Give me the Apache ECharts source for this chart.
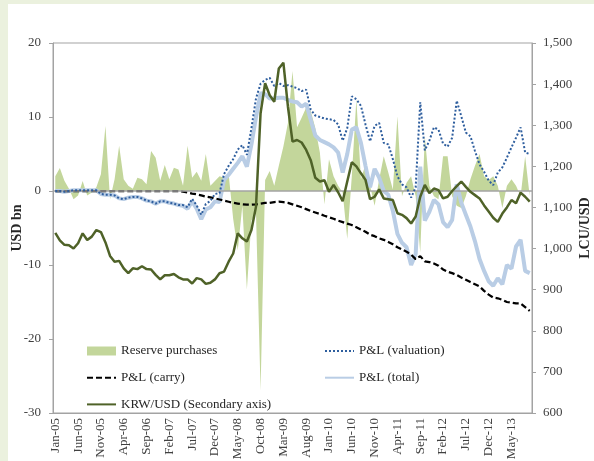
<!DOCTYPE html>
<html>
<head>
<meta charset="utf-8">
<script src="https://cdn.jsdelivr.net/npm/echarts@6/dist/echarts.min.js"></script>
<style>
  html, body { margin: 0; padding: 0; background: #ebf1de; }
  #panel { position: absolute; left: 8px; top: 4px; right: 0; bottom: 0; background: #ffffff; }
  #chart { position: absolute; left: 0; top: 0; width: 594px; height: 461px; }
</style>
</head>
<body>
<div id="panel"></div>
<div id="chart"></div>
<script>
// Monthly categories, Jan-05 .. Sep-13
const monthNames = ['Jan','Feb','Mar','Apr','May','Jun','Jul','Aug','Sep','Oct','Nov','Dec'];
const categories = [];
for (let k = 0; k < 105; k++) {
  const y = 5 + Math.floor(k / 12);
  categories.push(monthNames[k % 12] + '-' + (y < 10 ? '0' + y : '' + y));
}

// Reserve purchases, USD bn
const reservePurchases = [
  2.0, 3.1, 1.4, 0.3, -1.1, -0.6, 1.35, -0.6, -0.2, 0.5,
  2.25, 8.8, -1.1, 1.6, 6.1, 1.6, 0.7, 0.3, 1.8, 1.6,
  0.9, 5.4, 4.5, 1.4, 3.5, 1.6, 3.15, 2.9, 0.7, 6.1,
  1.8, 2.6, 1.4, 5.0, 0.7, 1.35, 2.0, 1.8, 2.3, -3.8,
  -8.0, -2.0, -13.3, -4.0, -3.0, -27.0, 1.5, 2.7, 0.7, 3.4,
  6.0, 9.2, 16.2, 8.6, 9.9, 11.3, 10.8, 8.5, 5.2, -1.8,
  4.3, 2.0, 0.7, -0.2, -6.5, 2.0, 12.4, 1.6, 3.6, 0.7,
  -2.0, 1.6, 4.7, 2.5, 0.2, 10.1, -0.7, 1.1, 2.0, -0.7,
  -8.3, 7.4, 0.7, -0.7, -1.1, 4.7, 4.7, -0.7, -2.0, -2.3,
  -0.7, 1.6, 3.4, 5.0, 2.0, 1.5, 2.0, 0.7, -2.3, 0.7,
  1.6, 0.7, -0.7, 4.7, -0.7
];

// P&L (valuation), USD bn
const pnlValuation = [
  0, 0, -0.1, 0, 0.1, 0.1, 0.1, 0.1, 0.1, 0.1,
  -0.4, -0.5, -0.5, -0.6, -1.0, -1.1, -0.9, -0.8, -0.8, -1.0,
  -1.3, -1.4, -1.7, -1.4, -1.4, -1.6, -1.7, -1.9, -1.9, -2.2,
  -1.05, -1.95, -3.2, -1.75, -1.35, -0.4, -0.3, 2.3, 3.4, 4.3,
  5.6, 6.2, 4.9, 8.5, 12.5, 14.5, 15.0, 15.3, 14.2, 14.6,
  14.2, 14.3, 14.1, 13.9, 13.5, 13.7, 11.0, 10.2, 10.0, 9.8,
  9.7, 9.6, 9.0, 6.8, 8.5, 12.8, 12.4, 11.5, 9.0, 6.7,
  8.8, 9.2, 6.5, 6.3, 4.3, 2.0, 0.9, 0.5, -0.9, 0.5,
  12.0, 5.5, 6.8, 8.6, 8.3, 6.4, 6.0, 7.2, 12.2, 10.1,
  7.9, 7.4, 5.4, 3.6, 2.6, 1.4, 0.8, 2.5, 3.2, 4.5,
  5.9, 7.2, 8.6, 5.2, 5.0
];

// P&L (carry), USD bn
const pnlCarry = [
  0, 0, 0, 0, 0, 0, 0, 0, 0, 0,
  0, 0, 0, 0, 0, 0, 0, 0, 0, 0,
  0, 0, 0, 0, 0, 0, 0, 0, -0.1, -0.2,
  -0.35, -0.45, -0.6, -0.75, -0.85, -1.0, -1.15, -1.3, -1.45, -1.6,
  -1.7, -1.8, -1.85, -1.85, -1.8, -1.7, -1.6, -1.6, -1.5, -1.45,
  -1.5, -1.6, -1.8, -2.0, -2.2, -2.45, -2.7, -2.9, -3.1, -3.35,
  -3.55, -3.75, -4.0, -4.2, -4.4, -4.6, -4.9, -5.2, -5.5, -5.9,
  -6.1, -6.4, -6.6, -6.9, -7.2, -7.6, -7.9, -8.2, -8.6, -9.2,
  -8.8, -9.5, -9.6, -9.8, -10.1, -10.6, -10.9, -11.1, -11.35, -11.7,
  -12.0, -12.3, -12.6, -12.9, -13.5, -14.0, -14.4, -14.5, -14.7, -15.0,
  -15.1, -15.2, -15.2, -15.7, -16.2
];

// P&L (total), USD bn
const pnlTotal = [
  0, 0, -0.1, 0, 0.1, 0.1, 0.1, 0.1, 0.1, 0.1,
  -0.4, -0.5, -0.5, -0.6, -1.0, -1.1, -0.9, -0.8, -0.8, -1.0,
  -1.3, -1.4, -1.7, -1.4, -1.4, -1.6, -1.7, -1.9, -2.0, -2.4,
  -1.4, -2.4, -3.8, -2.5, -2.2, -1.4, -1.5, 1.5, 2.2, 3.0,
  3.8, 4.7, 3.3, 6.3, 10.0, 13.2, 13.1, 12.5, 12.5, 12.6,
  12.6, 12.3, 12.1, 12.0, 11.4, 11.8, 9.6, 7.5, 6.9, 6.6,
  6.3, 5.9, 5.2, 2.5, 5.0, 8.3, 8.6, 6.5, 3.4, 0.5,
  3.0, 1.8, 0, -0.5, -2.7, -5.8, -7.0, -7.6, -10.0, -8.5,
  3.3, -4.0, -2.8, -1.2, -1.8, -4.2, -4.9, -3.9, 0.9, -1.6,
  -3.2, -4.8, -6.8, -9.2, -10.8, -12.2, -12.8, -11.8, -12.6, -10.0,
  -10.5, -7.5, -6.6, -10.8, -11.1
];

// KRW per USD (secondary axis)
const krwUsd = [
  1038, 1020, 1009, 1008, 1000, 1013, 1037, 1021, 1029, 1045,
  1040, 1015, 982, 968, 970, 952, 940, 952, 950, 957,
  950, 949, 936, 925, 935, 935, 938, 930, 925, 925,
  915, 928, 925, 914, 917, 925, 940, 944, 968, 988,
  1037, 1025, 1017, 1045, 1102, 1329, 1402, 1373, 1357, 1438,
  1452, 1345, 1260, 1264, 1258, 1240, 1215, 1172, 1163, 1166,
  1138, 1155, 1137, 1115, 1163, 1210, 1200, 1183, 1167, 1120,
  1126, 1144, 1122, 1120, 1118, 1086, 1082, 1074, 1061, 1078,
  1126, 1155, 1135, 1146, 1142, 1122, 1126, 1140, 1152, 1163,
  1150, 1138, 1130, 1122, 1105, 1090, 1075, 1065, 1085, 1100,
  1118, 1110, 1136, 1126, 1114
];

const FONT = 'Liberation Serif';
const TEXT = '#404040';
const AXIS = '#a3a3a3';

const chart = echarts.init(document.getElementById('chart'), null, { renderer: 'canvas' });

const legendText = { fontFamily: FONT, fontSize: 13, color: '#262626', lineHeight: 16 };

// Vertical axis titles, drawn as rotated text beside each value axis
function axisTitle(text, x, y) {
  return {
    type: 'text', x: x, y: y, rotation: Math.PI / 2, silent: true,
    style: {
      text: text, fill: '#262626',
      font: 'bold 14px "' + FONT + '"',
      textAlign: 'center', textVerticalAlign: 'middle'
    }
  };
}

chart.setOption({
  animation: false,
  backgroundColor: 'transparent',
  textStyle: { fontFamily: FONT },
  grid: {
    left: 53, right: 62, top: 43, bottom: 48,
    outerBoundsMode: 'none', containLabel: false,
    show: true, borderColor: AXIS, borderWidth: 1, backgroundColor: 'transparent'
  },
  graphic: [
    axisTitle('USD bn', 17, 228),
    axisTitle('LCU/USD', 585, 228)
  ],
  legend: [
    {
      orient: 'vertical', left: 81, top: 338,
      itemWidth: 29, itemHeight: 9, itemGap: 10.7,
      textStyle: legendText,
      data: [
        { name: 'Reserve purchases', icon: 'rect', itemStyle: { opacity: 1 } },
        'P&L (carry)',
        'KRW/USD (Secondary axis)'
      ]
    },
    {
      orient: 'vertical', left: 319, top: 338,
      itemWidth: 29, itemHeight: 9, itemGap: 10.7,
      textStyle: legendText,
      data: ['P&L (valuation)', 'P&L (total)']
    }
  ],
  xAxis: {
    type: 'category',
    data: categories,
    boundaryGap: true,
    axisLine: { show: true, onZero: false, lineStyle: { color: AXIS, width: 1 } },
    axisTick: { show: false },
    splitLine: { show: false },
    axisLabel: {
      interval: 4, rotate: 90, margin: 5,
      fontFamily: FONT, fontSize: 13, color: TEXT
    }
  },
  yAxis: [
    {
      type: 'value', min: -30, max: 20, interval: 10,
      axisLine: { show: true, lineStyle: { color: AXIS, width: 1 } },
      axisTick: { show: true, length: 4, lineStyle: { color: AXIS } },
      splitLine: { show: false },
      axisLabel: { margin: 12, fontFamily: FONT, fontSize: 13, color: TEXT }
    },
    {
      type: 'value', min: 600, max: 1500, interval: 100, position: 'right',
      axisLine: { show: true, lineStyle: { color: AXIS, width: 1 } },
      axisTick: { show: true, length: 4, lineStyle: { color: AXIS } },
      splitLine: { show: false },
      axisLabel: {
        margin: 11, fontFamily: FONT, fontSize: 13, color: TEXT,
        formatter: v => v.toLocaleString('en-US')
      }
    }
  ],
  series: [
    {
      name: 'Reserve purchases', type: 'line', data: reservePurchases,
      symbol: 'none', z: 1,
      itemStyle: { color: '#c3d69b' },
      lineStyle: { width: 0, color: '#c3d69b' },
      areaStyle: { color: '#c3d69b', opacity: 1, origin: 'auto' },
      markLine: {
        silent: true, symbol: ['none', 'none'],
        label: { show: false },
        lineStyle: { color: AXIS, width: 1.5, type: 'solid' },
        data: [{ yAxis: 0 }]
      }
    },
    {
      name: 'P&L (total)', type: 'line', data: pnlTotal,
      symbol: 'none', z: 3,
      itemStyle: { color: '#b9cde5', opacity: 0 },
      lineStyle: { width: 4, color: '#b9cde5' }
    },
    {
      name: 'P&L (carry)', type: 'line', data: pnlCarry,
      symbol: 'none', z: 4,
      itemStyle: { color: '#000000', opacity: 0 },
      lineStyle: { width: 2.25, color: '#000000', type: [6, 3] }
    },
    {
      name: 'P&L (valuation)', type: 'line', data: pnlValuation,
      symbol: 'none', z: 5,
      itemStyle: { color: '#2e5e9e', opacity: 0 },
      lineStyle: { width: 2, color: '#2e5e9e', type: [2, 2] }
    },
    {
      name: 'KRW/USD (Secondary axis)', type: 'line', data: krwUsd, yAxisIndex: 1,
      symbol: 'none', z: 6,
      itemStyle: { color: '#4f6228', opacity: 0 },
      lineStyle: { width: 2.5, color: '#4f6228' }
    }
  ]
});
</script>
</body>
</html>
